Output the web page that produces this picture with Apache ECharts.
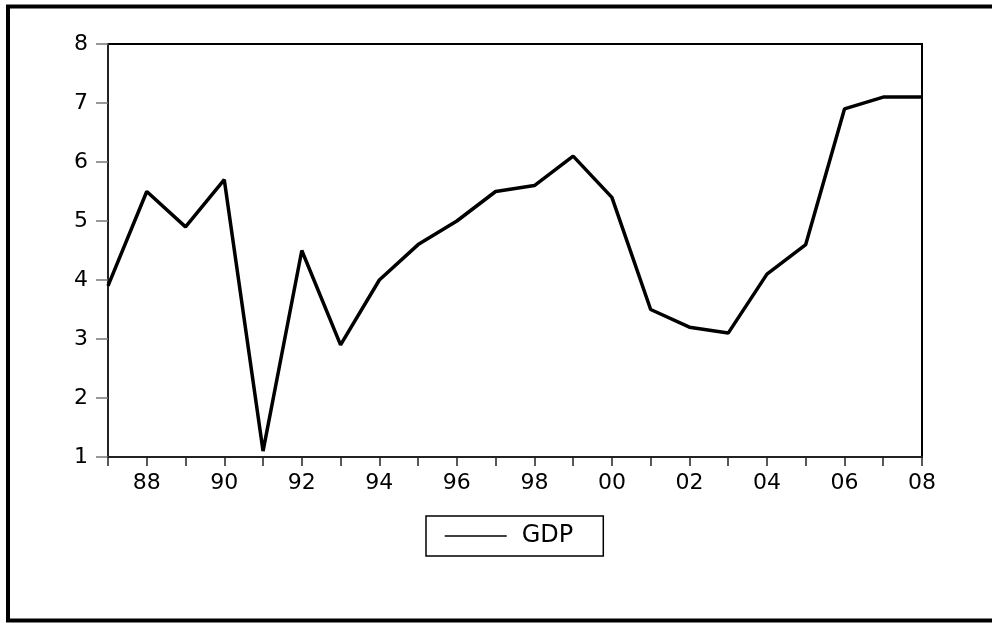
<!DOCTYPE html>
<html>
<head>
<meta charset="utf-8">
<script src="https://cdn.jsdelivr.net/npm/echarts@6/dist/echarts.min.js"></script>
<style>html,body{margin:0;padding:0;background:#fff;}#c{width:992px;height:623px;}</style>
</head>
<body>
<div id="c"></div>
<script>
const years = [1987,1988,1989,1990,1991,1992,1993,1994,1995,1996,1997,1998,1999,2000,2001,2002,2003,2004,2005,2006,2007,2008];
const gdp = [3.9,5.5,4.9,5.7,1.1,4.5,2.9,4.0,4.6,5.0,5.5,5.6,6.1,5.4,3.5,3.2,3.1,4.1,4.6,6.9,7.1,7.1];
const seriesName = 'GDP';

const chart = echarts.init(document.getElementById('c'), null, {renderer: 'canvas'});
const fontFam = 'DejaVu Sans, Liberation Sans, Arial, sans-serif';
chart.setOption({
  animation: false,
  backgroundColor: '#fff',
  graphic: [{
    type: 'rect',
    shape: {x: 8, y: 6.5, width: 1000, height: 614},
    style: {fill: 'none', stroke: '#000', lineWidth: 4}
  }],
  grid: {left: 108, right: 70, top: 44, bottom: 166, show: true, borderColor: '#000', borderWidth: 2, backgroundColor: 'transparent'},
  xAxis: {
    type: 'value', min: 1987, max: 2008, interval: 1,
    axisLine: {lineStyle: {color: '#222', width: 2}},
    axisTick: {show: true, length: 9, lineStyle: {color: '#222', width: 1.5}},
    splitLine: {show: false},
    axisLabel: {
      fontSize: 22, color: '#000', fontFamily: fontFam, margin: 15,
      formatter: v => (v % 2 === 0 ? String(v).slice(2) : '')
    }
  },
  yAxis: {
    type: 'value', min: 1, max: 8, interval: 1,
    axisLine: {show: true, lineStyle: {color: '#222', width: 2}},
    axisTick: {show: true, length: 12, lineStyle: {color: '#777', width: 1.5}},
    splitLine: {show: false},
    axisLabel: {fontSize: 22, color: '#000', fontFamily: fontFam, margin: 20}
  },
  legend: {
    left: 426, top: 516,
    data: [seriesName],
    borderColor: '#000', borderWidth: 1.5,
    padding: [8, 30, 8, 18],
    itemWidth: 62, itemHeight: 14, itemGap: 0,
    textStyle: {fontSize: 24, color: '#000', fontFamily: fontFam, padding: [0, 0, 0, 10]},
    itemStyle: {opacity: 0},
    lineStyle: {width: 1.5, color: '#000'}
  },
  series: [{
    name: seriesName, type: 'line',
    data: years.map((y, i) => [y, gdp[i]]),
    symbol: 'none', showSymbol: false,
    lineStyle: {color: '#000', width: 3.5},
    itemStyle: {color: '#000'}
  }]
});
</script>
</body>
</html>
